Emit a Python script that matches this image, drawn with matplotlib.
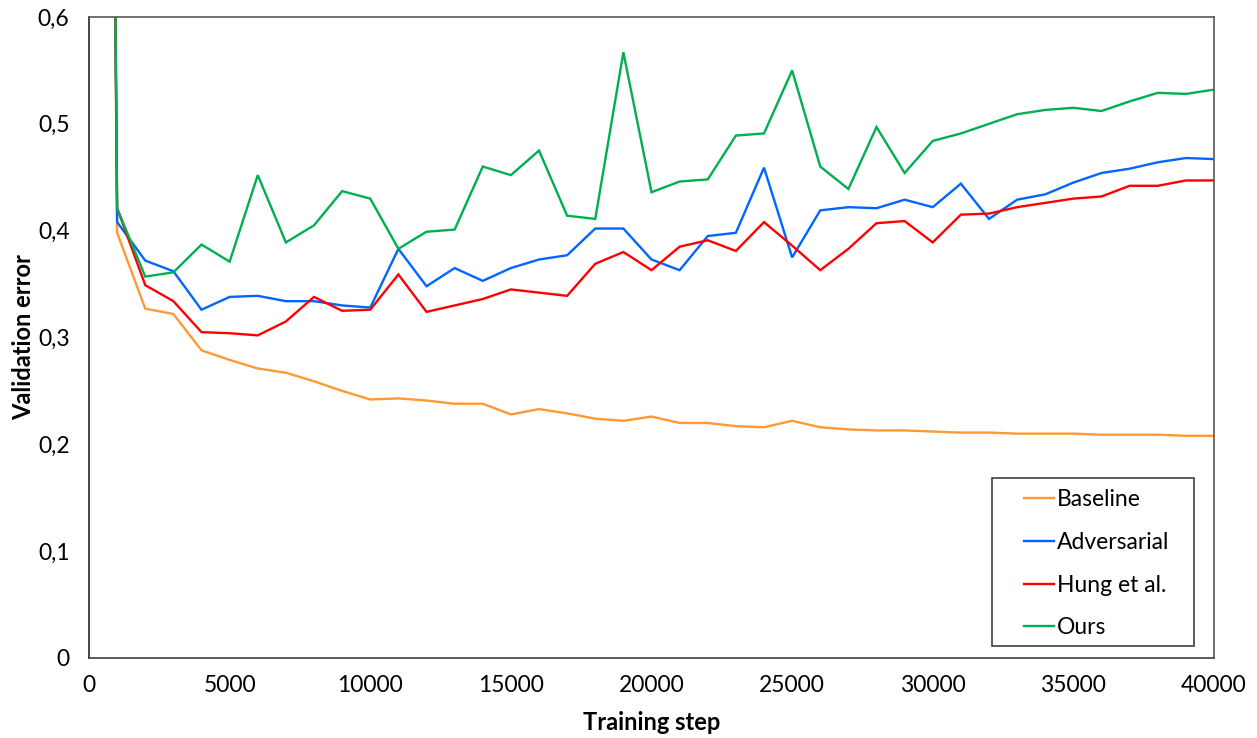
import matplotlib.pyplot as plt
from matplotlib.ticker import FuncFormatter, MultipleLocator
from matplotlib.patches import Rectangle

plt.rcParams['font.family'] = ['Lato', 'DejaVu Sans']

# training steps (first point is the untrained model, far above the axis)
steps = [0] + [1000 * i for i in range(1, 41)]

baseline = [3.5, 0.398, 0.327, 0.322, 0.288, 0.279, 0.271, 0.267, 0.259, 0.250, 0.242,
            0.243, 0.241, 0.238, 0.238, 0.228, 0.233, 0.229, 0.224, 0.222, 0.226,
            0.220, 0.220, 0.217, 0.216, 0.222, 0.216, 0.214, 0.213, 0.213, 0.212,
            0.211, 0.211, 0.210, 0.210, 0.210, 0.209, 0.209, 0.209, 0.208, 0.208]

adversarial = [3.5, 0.408, 0.372, 0.362, 0.326, 0.338, 0.339, 0.334, 0.334, 0.330, 0.328,
               0.383, 0.348, 0.365, 0.353, 0.365, 0.373, 0.377, 0.402, 0.402, 0.373,
               0.363, 0.395, 0.398, 0.459, 0.375, 0.419, 0.422, 0.421, 0.429, 0.422,
               0.444, 0.411, 0.429, 0.434, 0.445, 0.454, 0.458, 0.464, 0.468, 0.467]

hung = [3.5, 0.421, 0.349, 0.334, 0.305, 0.304, 0.302, 0.315, 0.338, 0.325, 0.326,
        0.359, 0.324, 0.330, 0.336, 0.345, 0.342, 0.339, 0.369, 0.380, 0.363,
        0.385, 0.391, 0.381, 0.408, 0.386, 0.363, 0.383, 0.407, 0.409, 0.389,
        0.415, 0.416, 0.422, 0.426, 0.430, 0.432, 0.442, 0.442, 0.447, 0.447]

ours = [3.5, 0.421, 0.357, 0.361, 0.387, 0.371, 0.452, 0.389, 0.405, 0.437, 0.430,
        0.383, 0.399, 0.401, 0.460, 0.452, 0.475, 0.414, 0.411, 0.567, 0.436,
        0.446, 0.448, 0.489, 0.491, 0.550, 0.460, 0.439, 0.497, 0.454, 0.484,
        0.491, 0.500, 0.509, 0.513, 0.515, 0.512, 0.521, 0.529, 0.528, 0.532]

series = [
    ("Baseline", baseline, "#FF9933"),
    ("Adversarial", adversarial, "#0066FF"),
    ("Hung et al.", hung, "#FF0000"),
    ("Ours", ours, "#00B050"),
]

fig = plt.figure(figsize=(12.57, 7.38), dpi=100)
ax = fig.add_axes([89 / 1257, 80 / 738, 1125 / 1257, 641 / 738])

for name, vals, color in series:
    ax.plot(steps, vals, color=color, lw=1.7, label=name, solid_joinstyle='miter')

ax.set_xlim(0, 40000)
ax.set_ylim(0, 0.6)
ax.xaxis.set_major_locator(MultipleLocator(5000))
ax.yaxis.set_major_locator(MultipleLocator(0.1))
ax.yaxis.set_major_formatter(FuncFormatter(
    lambda v, p: "0" if abs(v) < 1e-9 else f"{v:.1f}".replace(".", ",")))
ax.tick_params(length=0, labelsize=16.5, colors='black')
ax.tick_params(axis='x', pad=12)
ax.tick_params(axis='y', pad=14)

for sp in ax.spines.values():
    sp.set_color('#595959')
    sp.set_linewidth(1.2)
ax.spines['left'].set_color('#262626')
ax.spines['bottom'].set_color('#404040')

ax.set_xlabel("Training step", fontsize=17, fontweight='bold', labelpad=11)
ax.set_ylabel("Validation error", fontsize=17, fontweight='bold', labelpad=2)

# legend box
fig.patches.append(Rectangle((992 / 1257, 1 - 646 / 738), 202 / 1257, 168 / 738,
                             transform=fig.transFigure, fill=False,
                             edgecolor='#404040', lw=1.2))
fig.legend(loc='upper left', bbox_to_anchor=(1024 / 1257, 1 - 489 / 738),
           frameon=False, fontsize=16.5, handlelength=1.3, handletextpad=0.15,
           labelspacing=0.95, borderpad=0, borderaxespad=0)

plt.savefig('out.png', dpi=100)
